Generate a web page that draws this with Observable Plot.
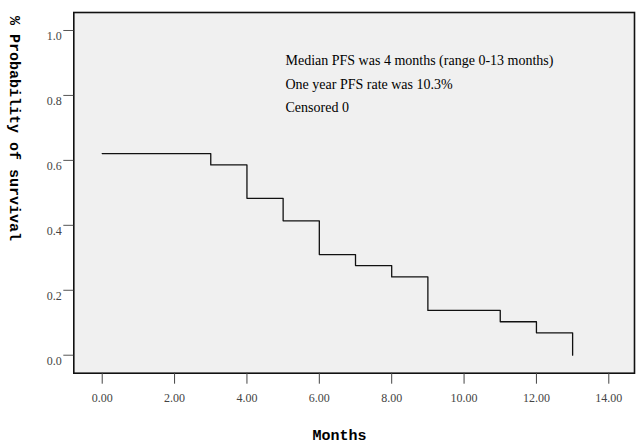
<!DOCTYPE html>
<html>
<head>
<meta charset="utf-8">
<script src="https://cdn.jsdelivr.net/npm/d3@7"></script>
<script src="https://cdn.jsdelivr.net/npm/@observablehq/plot@0.6"></script>
<style>
  html, body { margin: 0; padding: 0; background: #ffffff; }
  #chart svg { display: block; }
</style>
</head>
<body>
<div id="chart"></div>
<script>
// Kaplan-Meier step points (months, survival probability)
const months = [0, 3, 4, 5, 6, 7, 8, 9, 11, 12, 13];
const survival = [0.621, 0.586, 0.483, 0.414, 0.310, 0.276, 0.241, 0.138, 0.103, 0.069, 0.0];
const xTicks = [0, 2, 4, 6, 8, 10, 12, 14];
const yTicks = [0, 0.2, 0.4, 0.6, 0.8, 1.0];
const notes = [
  "Median PFS was 4 months (range 0-13 months)",
  "One year PFS rate was 10.3%",
  "Censored 0"
];
const xTitle = "Months";
const yTitle = "% Probability of survival";

const data = months.map((m, i) => ({month: m, surv: survival[i]}));

const chart = Plot.plot({
  width: 636,
  height: 447,
  marginLeft: 73.3,
  marginTop: 12,
  marginRight: 2,
  marginBottom: 74.3,
  style: {background: "#ffffff", overflow: "visible"},
  x: {domain: [-0.785, 14.71], ticks: xTicks, tickFormat: d3.format(".2f"), label: null},
  y: {domain: [-0.0554, 1.0554], ticks: yTicks, tickFormat: d3.format(".1f"), label: null},
  marks: [
    Plot.frame({fill: "#f0f0f0", stroke: null}),
    Plot.line(data, {x: "month", y: "surv", curve: "step-after", stroke: "#111", strokeWidth: 1.3}),
    Plot.frame({stroke: "#111", strokeWidth: 1.6}),
    Plot.axisX({ticks: xTicks, tickFormat: d3.format(".2f"), tickSize: 11, tickPadding: 9,
      stroke: "#444", fill: "#444", fontSize: 12, fontFamily: "Liberation Serif", label: null}),
    Plot.tickY(yTicks, {y: d => d, insetLeft: -10, insetRight: 560.7, stroke: "#555", strokeWidth: 1}),
    Plot.axisY({ticks: yTicks, tickFormat: d3.format(".1f"), tickSize: 0, tickPadding: 12, dy: 6,
      fill: "#444", fontSize: 12, fontFamily: "Liberation Serif", label: null}),
    Plot.text([notes.join("\n")], {frameAnchor: "top-left", dx: 211.7, dy: 36, textAnchor: "start",
      lineAnchor: "top", lineHeight: 1.68, fontSize: 14, fontFamily: "Liberation Serif", fill: "#000"}),
    Plot.text([xTitle], {frameAnchor: "bottom", dx: -14.7, dy: 62, textAnchor: "middle", lineAnchor: "middle",
      fontSize: 15, fontWeight: "bold", fontFamily: "Liberation Mono", fill: "#000"}),
    Plot.text([yTitle], {frameAnchor: "top-left", dx: -59, dy: 116, rotate: 90, textAnchor: "middle",
      lineAnchor: "middle", fontSize: 15, fontWeight: "bold", fontFamily: "Liberation Mono", fill: "#000"})
  ]
});
document.getElementById("chart").appendChild(chart);
</script>
</body>
</html>
